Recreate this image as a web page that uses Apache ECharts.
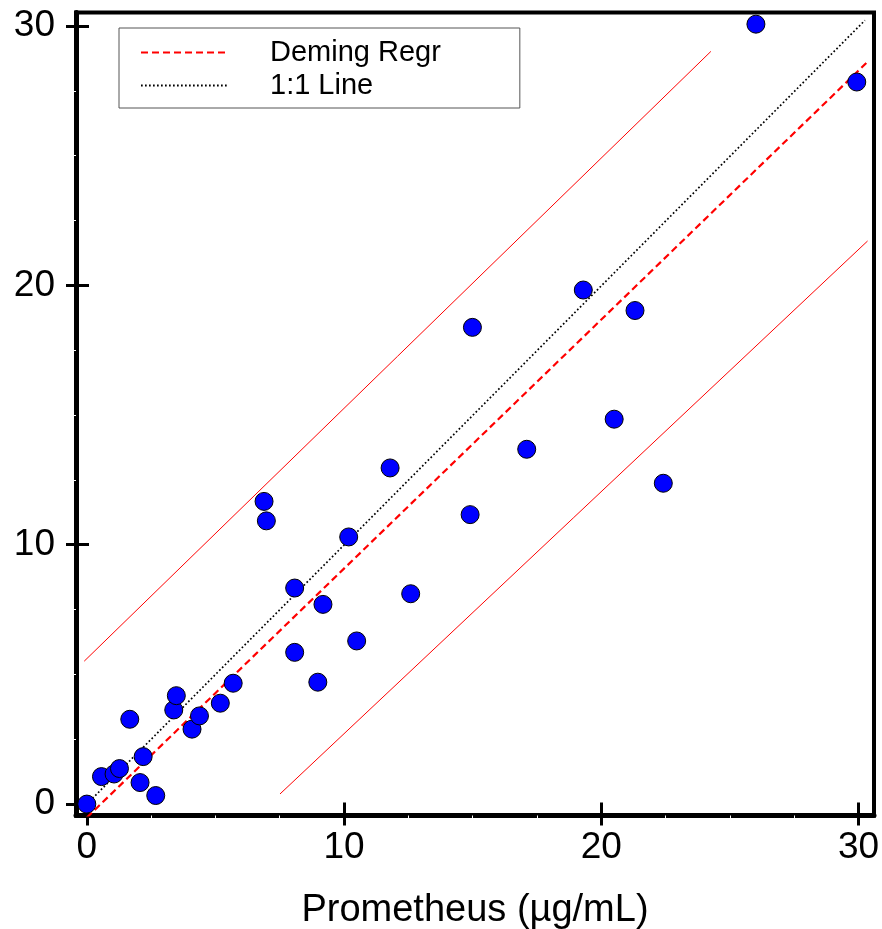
<!DOCTYPE html>
<html>
<head>
<meta charset="utf-8">
<script src="https://cdn.jsdelivr.net/npm/echarts@6/dist/echarts.min.js"></script>
<style>
  html, body { margin: 0; padding: 0; background: #fff; }
  #chart { width: 882px; height: 929px; }
</style>
</head>
<body>
<div id="chart"></div>
<script>
// 数据
const prometheusX = [0, 0.57, 1.06, 1.27, 1.67, 2.07, 2.19, 2.68, 3.38, 3.48, 4.09, 4.38, 5.19, 5.69, 6.89, 6.98, 8.08, 8.08, 8.98, 9.18, 10.18, 10.49, 11.79, 12.59, 14.90, 14.99, 17.10, 19.30, 20.50, 21.31, 22.41, 26.01, 29.93]
const comparatorY = [0, 1.06, 1.16, 1.37, 3.27, 0.83, 1.83, 0.33, 3.63, 4.18, 2.89, 3.40, 3.89, 4.66, 11.67, 10.92, 8.33, 5.85, 4.70, 7.70, 10.30, 6.29, 12.96, 8.11, 11.16, 18.38, 13.68, 19.82, 14.84, 19.03, 12.37, 30.07, 27.84]
const demingLine = [[0, -0.52], [30.3, 28.57]]
const identityLine = [[0, 0], [30.25, 30.22]]
const upperLimit = [[-0.1, 5.51], [24.26, 29.02]]
const lowerLimit = [[7.51, 0.39], [30.35, 21.71]]
const majorTicks = [0, 10, 20, 30]
const minorTicks = [2.5, 5, 7.5, 12.5, 15, 17.5, 22.5, 25, 27.5]
const xRange = [-0.42, 30.6]
const yRange = [-0.44, 30.52]

const chartInstance = echarts.init(document.getElementById('chart'))
const font = "'Liberation Sans', Arial, sans-serif"

// 两层坐标轴：主轴(轴线+标签+白色小刻度)，副轴(往里偏移，穿过轴线的大刻度)
const makeAxes = (range, isX) => {
  const pos = isX ? 'bottom' : 'left'
  const base = { type: 'value', min: range[0], max: range[1], position: pos, splitLine: { show: false } }
  return [
    Object.assign({}, base, {
      name: isX ? 'Prometheus (µg/mL)' : '',
      nameLocation: 'middle',
      nameGap: 76,
      nameTextStyle: { fontFamily: font, fontSize: 38, color: '#000' },
      axisLine: { show: true, onZero: false, lineStyle: { color: '#000', width: 5 } },
      axisTick: { show: true, length: 3, customValues: minorTicks, lineStyle: { color: '#fff', width: 1 } },
      axisLabel: { customValues: majorTicks, margin: isX ? 14 : 21, fontFamily: font, fontSize: 37, color: '#000' }
    }),
    Object.assign({}, base, {
      offset: -13,
      axisLine: { show: false, onZero: false },
      axisTick: { show: true, length: 23, customValues: majorTicks, lineStyle: { color: '#000', width: 3 } },
      axisLabel: { show: false }
    })
  ]
}

const option = {
  animation: false,
  grid: {
    left: 76, right: 8, top: 12.5, bottom: 113.5,
    outerBoundsMode: 'none',
    containLabel: false,
    show: true, borderColor: '#000', borderWidth: 4
  },
  legend: {
    orient: 'vertical',
    left: 119,
    top: 28,
    padding: [10, 79, 8, 21],
    itemGap: 4,
    itemWidth: 87,
    itemHeight: 14,
    borderColor: '#555',
    borderWidth: 1,
    backgroundColor: '#fff',
    itemStyle: { opacity: 0 },
    data: ['Deming Regr', '1:1 Line'],
    textStyle: { fontFamily: font, fontSize: 29, color: '#000', padding: [0, 0, 0, 37] }
  },
  xAxis: makeAxes(xRange, true),
  yAxis: makeAxes(yRange, false),
  series: [
    {
      name: 'Deming Regr',
      type: 'line',
      data: demingLine,
      symbol: 'none',
      z: 3,
      lineStyle: { color: '#ff0000', width: 2.2, type: [7, 4] }
    },
    {
      name: '1:1 Line',
      type: 'line',
      data: identityLine,
      symbol: 'none',
      z: 3,
      lineStyle: { color: '#000', width: 1.7, type: [1.7, 2.3] }
    },
    {
      name: 'upper',
      type: 'line',
      data: upperLimit,
      symbol: 'none',
      z: 2,
      lineStyle: { color: '#ff0000', width: 1 }
    },
    {
      name: 'lower',
      type: 'line',
      data: lowerLimit,
      symbol: 'none',
      z: 2,
      lineStyle: { color: '#ff0000', width: 1 }
    },
    {
      name: 'points',
      type: 'scatter',
      data: prometheusX.map((x, i) => [x, comparatorY[i]]),
      symbol: 'circle',
      symbolSize: 18,
      z: 4,
      clip: false,
      itemStyle: { color: '#0000ff', borderColor: '#000', borderWidth: 1, opacity: 1 }
    }
  ]
}
chartInstance.setOption(option)
</script>
</body>
</html>
